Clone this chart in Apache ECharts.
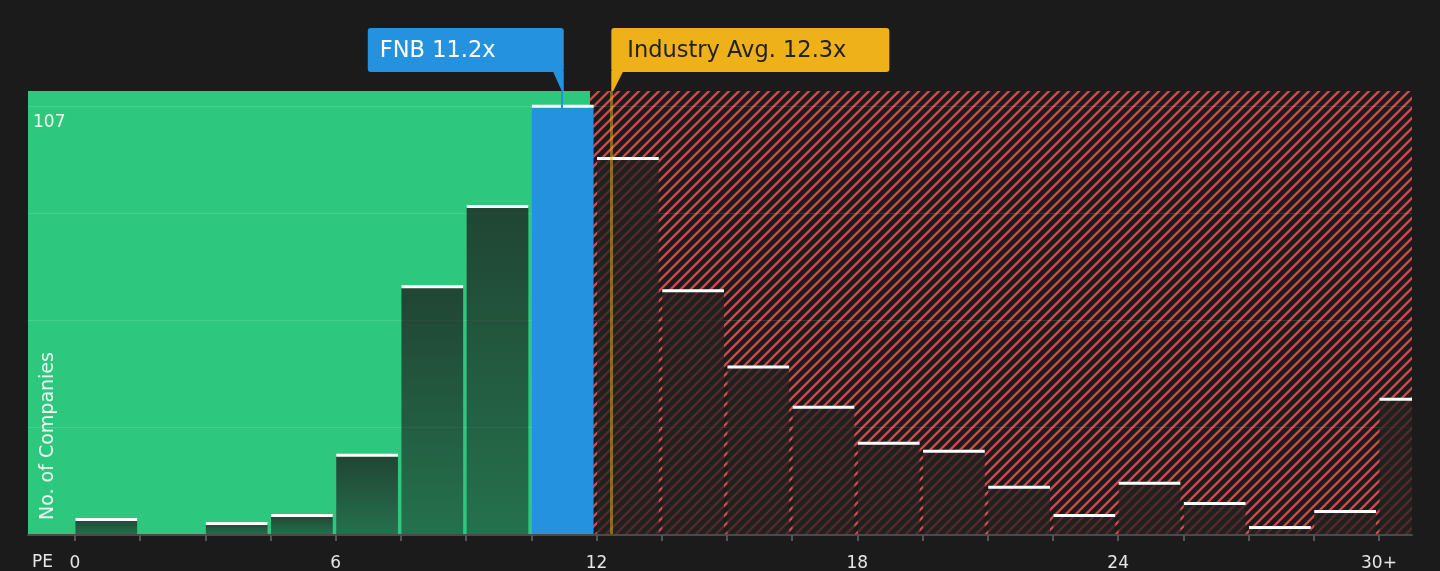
<!DOCTYPE html>
<html>
<head>
<meta charset="utf-8">
<title>FNB PE vs industry</title>
<script src="https://cdn.jsdelivr.net/npm/echarts@6/dist/echarts.min.js"></script>
<style>
  html, body { margin: 0; padding: 0; background: #1b1b1b; }
  #chart { width: 1440px; height: 571px; }
</style>
</head>
<body>
<div id="chart"></div>
<script>
// histogram bins (PE), 1.5 wide, last one is "30+"
var binStart = [0, 1.5, 3, 4.5, 6, 7.5, 9, 10.5, 12, 13.5, 15, 16.5, 18, 19.5, 21, 22.5, 24, 25.5, 27, 28.5, 30];
var binWidth = 1.5;
var companyCounts = [4, 0, 3, 5, 20, 62, 82, 107, 94, 61, 42, 32, 23, 21, 12, 5, 13, 8, 2, 6, 34];
var xLabelValues = [0, 6, 12, 18, 24, 30];
var xTickValues = binStart;
var yLabelValues = [107];
var fnbPe = 11.2;
var industryPe = 12.34;
var fairLimit = 11.85;

var FONT = '"DejaVu Sans", sans-serif';

// red diagonal hatch for the "expensive" zone
function makeHatch() {
    var c = document.createElement('canvas');
    c.width = 10;
    c.height = 10;
    var ctx = c.getContext('2d');
    ctx.fillStyle = '#1b1b1b';
    ctx.fillRect(0, 0, 10, 10);
    ctx.strokeStyle = '#cc4b4b';
    ctx.lineWidth = 2.3;
    for (var k = 0; k <= 20; k += 10) {
        ctx.beginPath();
        ctx.moveTo(-2, k + 2);
        ctx.lineTo(12, k - 12);
        ctx.stroke();
    }
    return c;
}

var barData = binStart.map(function (s, i) {
    return [s, s + binWidth, companyCounts[i]];
});

var greenFill = new echarts.graphic.LinearGradient(0, 0, 0, 1, [
    { offset: 0, color: 'rgba(28,28,28,0.76)' },
    { offset: 1, color: 'rgba(28,28,28,0.5)' }
]);

function renderBar(params, api) {
    var s = api.value(0), e = api.value(1), v = api.value(2);
    if (!(v > 0)) {
        return { type: 'group', children: [] };
    }
    var p0 = api.coord([s, v]);
    var p1 = api.coord([e, 0]);
    var cs = params.coordSys;
    var x = p0[0] + 0.5;
    var right = Math.min(p1[0] - 3, cs.x + cs.width);
    var w = right - x;
    var fill;
    if (s <= fnbPe && fnbPe < e) {
        fill = '#2492df';
    } else if (e <= fairLimit) {
        fill = greenFill;
    } else {
        fill = 'rgba(36,32,32,0.74)';
    }
    return {
        type: 'group',
        children: [{
            type: 'rect',
            shape: { x: x, y: p0[1], width: w, height: p1[1] - p0[1] },
            style: { fill: fill }
        }, {
            type: 'rect',
            shape: { x: x, y: p0[1] - 1, width: w, height: 3 },
            style: { fill: '#ffffff' }
        }]
    };
}

var chart = echarts.init(document.getElementById('chart'));

var option = {
    backgroundColor: '#1b1b1b',
    animation: false,
    grid: { left: 28, right: 28, top: 91, bottom: 36, outerBoundsMode: 'none', containLabel: false },
    xAxis: {
        type: 'value',
        min: -1.08,
        max: 30.76,
        z: 5,
        axisLine: { show: true, lineStyle: { color: '#4a4a4a', width: 2 } },
        axisTick: {
            show: true,
            customValues: xTickValues,
            length: 6,
            lineStyle: { color: '#555555', width: 2 }
        },
        axisLabel: {
            customValues: xLabelValues,
            color: '#e6e6e6',
            fontFamily: FONT,
            fontSize: 17,
            margin: 20,
            formatter: function (v) {
                return v === 30 ? '30+' : String(v);
            }
        },
        splitLine: { show: false }
    },
    yAxis: {
        type: 'value',
        min: 0,
        max: 110.7,
        interval: 26.75,
        z: 2,
        axisLine: { show: false },
        axisTick: { show: false },
        axisLabel: {
            inside: true,
            margin: 5,
            verticalAlign: 'top',
            padding: [8, 0, 0, 0],
            color: '#eef6f1',
            fontFamily: FONT,
            fontSize: 17,
            formatter: function (v) {
                return yLabelValues.indexOf(v) >= 0 ? String(v) : '';
            }
        },
        splitLine: {
            show: true,
            showMaxLine: false,
            lineStyle: { color: 'rgba(255,255,255,0.12)', width: 1 }
        }
    },
    series: [{
        // background zones + FNB marker, below the bars
        type: 'line',
        data: [],
        z: 1,
        silent: true,
        markArea: {
            silent: true,
            data: [
                [{ xAxis: -1.08, itemStyle: { color: '#2ec77e' } }, { xAxis: fairLimit }],
                [{ xAxis: fairLimit, itemStyle: { color: { image: makeHatch(), repeat: 'repeat' } } }, { xAxis: 30.76 }]
            ]
        },
        markLine: {
            silent: true,
            symbol: 'none',
            label: { show: false },
            lineStyle: { color: '#2492df', width: 2, type: 'solid' },
            data: [{ xAxis: fnbPe }]
        }
    }, {
        type: 'custom',
        z: 3,
        silent: true,
        renderItem: renderBar,
        encode: { x: [0, 1], y: 2 },
        data: barData
    }, {
        // industry average line on top
        type: 'line',
        data: [],
        z: 4,
        silent: true,
        markLine: {
            silent: true,
            symbol: 'none',
            label: { show: false },
            lineStyle: { color: 'rgba(240,178,28,0.5)', width: 3, type: 'solid' },
            data: [{ xAxis: industryPe }]
        }
    }]
};

chart.setOption(option);

// callouts above the plot, anchored to the axis positions
function addCallouts() {
    var fx = chart.convertToPixel({ gridIndex: 0 }, [fnbPe, 0])[0];
    var ix = chart.convertToPixel({ gridIndex: 0 }, [industryPe, 0])[0];
    var top = 91;
    var g = echarts.graphic;
    var zr = chart.getZr();
    var items = [
        new g.Rect({ shape: { x: fx - 194, y: 28, width: 196, height: 44, r: 3 }, style: { fill: '#2492df' } }),
        new g.Polygon({ shape: { points: [[fx - 9, 71], [fx + 2, 71], [fx + 2, top], [fx, top]] }, style: { fill: '#2492df' } }),
        new g.Text({ x: fx - 182, y: 51, style: { text: 'FNB ' + fnbPe.toFixed(1) + 'x', fill: '#ffffff', font: '22.5px ' + FONT, verticalAlign: 'middle' } }),
        new g.Rect({ shape: { x: ix, y: 28, width: 278, height: 44, r: 3 }, style: { fill: '#efb11a' } }),
        new g.Polygon({ shape: { points: [[ix, 71], [ix + 12, 71], [ix + 2, top], [ix, top]] }, style: { fill: '#efb11a' } }),
        new g.Text({ x: ix + 16, y: 51, style: { text: 'Industry Avg. ' + industryPe.toFixed(1) + 'x', fill: '#222222', font: '22.5px ' + FONT, verticalAlign: 'middle' } }),
        new g.Text({ x: 32, y: 563, style: { text: 'PE', fill: '#e6e6e6', font: '17px ' + FONT, verticalAlign: 'middle' } }),
        new g.Text({ x: 48, y: 520, rotation: Math.PI / 2, style: { text: 'No. of Companies', fill: '#eef6f1', font: '19px ' + FONT, align: 'left', verticalAlign: 'middle' } })
    ];
    items.forEach(function (el) {
        el.z = 100;
        zr.add(el);
    });
}

addCallouts();
</script>
</body>
</html>
